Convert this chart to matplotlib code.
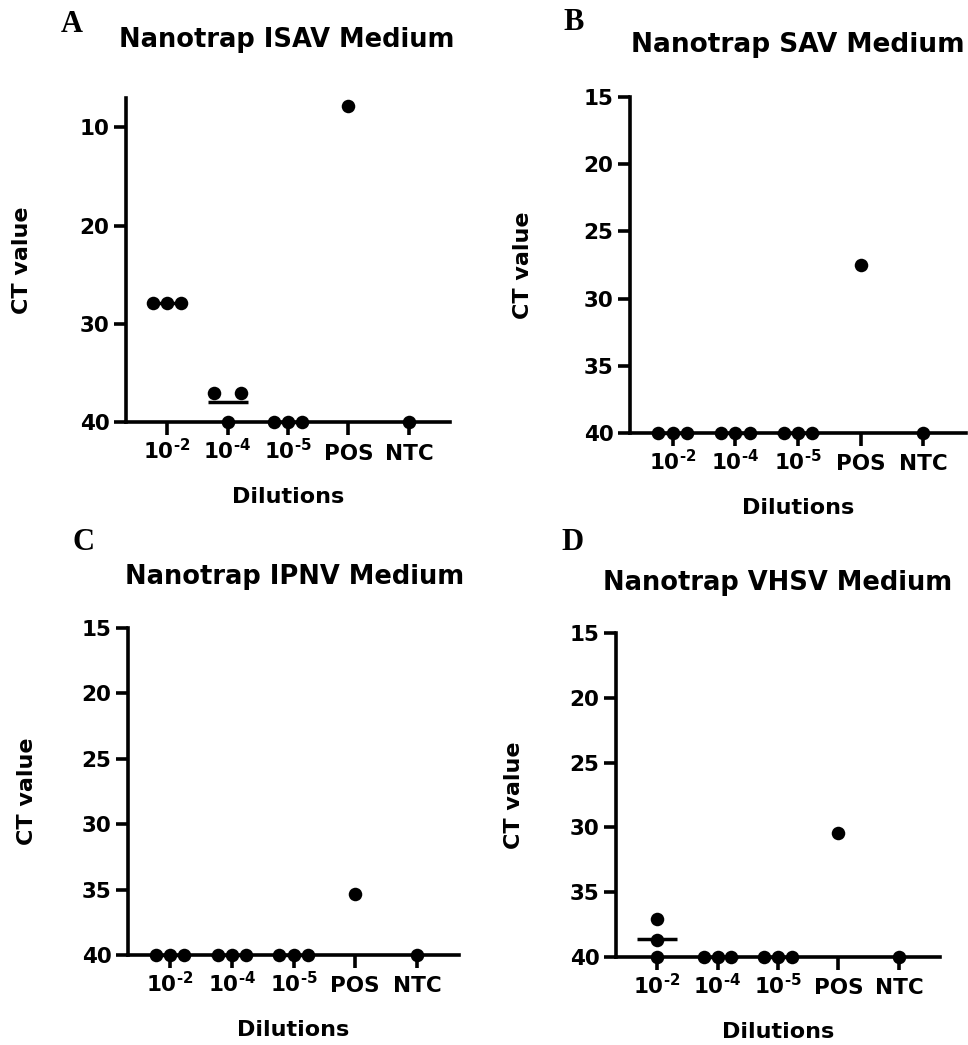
# Nanotrap medium CT values, four panels (A-D), Prism-style scatter with mean line
import matplotlib
matplotlib.use("Agg")
import matplotlib.pyplot as plt
import numpy as np

plt.rcParams['mathtext.fontset'] = 'dejavusans'
plt.rcParams['mathtext.default'] = 'bf'

W, H = 968, 1045

# categories on x axis (superscript uses a real hyphen, like the original)
categories = ['$10^{\u20102}$', '$10^{\u20104}$', '$10^{\u20105}$', 'POS', 'NTC']

# CT values per category (replicates)
isav_ct = [[27.9, 27.9, 27.9], [37.0, 40.0, 37.0], [40.0, 40.0, 40.0], [7.8], [40.0]]
sav_ct = [[40.0, 40.0, 40.0], [40.0, 40.0, 40.0], [40.0, 40.0, 40.0], [27.5], [40.0]]
ipnv_ct = [[40.0, 40.0, 40.0], [40.0, 40.0, 40.0], [40.0, 40.0, 40.0], [35.3], [40.0]]
vhsv_ct = [[37.1, 38.7, 40.0], [40.0, 40.0, 40.0], [40.0, 40.0, 40.0], [30.4], [40.0]]

titles = ['Nanotrap ISAV Medium', 'Nanotrap SAV Medium',
          'Nanotrap IPNV Medium', 'Nanotrap VHSV Medium']
letters = ['A', 'B', 'C', 'D']
isav_yticks = [10, 20, 30, 40]
other_yticks = [15, 20, 25, 30, 35, 40]


def swarm_offsets(vals, step=0.23):
    '''spread identical values sideways like Prism does'''
    vals = np.asarray(vals, dtype=float)
    offs = np.zeros(len(vals))
    keys = np.round(vals, 1)
    for k in np.unique(keys):
        idx = np.where(keys == k)[0]
        n = len(idx)
        if n == 1:
            continue
        if n == 2:
            o = np.array([-1.0, 1.0])
        else:
            o = np.arange(n) - (n - 1) / 2
        offs[idx] = o * step
    return offs


def add_panel(fig, box, data, yticks, ylim, title, letter, title_xy, letter_xy,
              ylabel_x, title_size=18.5):
    left, top, right, bottom = box
    ax = fig.add_axes([left / W, 1 - bottom / H, (right - left) / W, (bottom - top) / H])

    for i, vals in enumerate(data):
        x = i + swarm_offsets(vals)
        if len(vals) > 1:
            m = np.mean(vals)
            ax.plot([i - 0.33, i + 0.33], [m, m], color='black', lw=2.5,
                    solid_capstyle='butt', zorder=3, clip_on=False)
        ax.scatter(x, vals, s=95, color='black', zorder=6, clip_on=False,
                   linewidths=0)

    ax.set_xlim(-0.68, 4.68)
    ax.set_ylim(*ylim)
    ax.set_xticks(range(len(categories)))
    ax.set_xticklabels(categories)
    ax.set_yticks(yticks)

    for s in ['top', 'right']:
        ax.spines[s].set_visible(False)
    for s in ['left', 'bottom']:
        ax.spines[s].set_linewidth(2.6)
        ax.spines[s].set_zorder(4)

    ax.tick_params(axis='both', direction='out', length=9, width=2.6,
                   labelsize=15.5)
    ax.tick_params(axis='x', pad=18)
    ax.tick_params(axis='y', pad=3)
    for lab in ax.get_xticklabels() + ax.get_yticklabels():
        lab.set_fontweight('bold')
    # keep all x labels on one baseline (superscripts stick up)
    for t in ax.xaxis.get_major_ticks():
        t.label1.set_va('baseline')

    ax.set_ylabel('CT value', fontsize=16, fontweight='bold')
    ax.set_xlabel('Dilutions', fontsize=16, fontweight='bold')
    ax.yaxis.set_label_coords((ylabel_x - left) / (right - left), 0.5)
    ax.xaxis.set_label_coords(0.5, -75 / (bottom - top))
    ax.xaxis.label.set_va('center')
    ax.yaxis.label.set_va('center')

    fig.text(title_xy[0] / W, 1 - title_xy[1] / H, title, ha='center', va='center',
             fontsize=title_size, fontweight='bold')
    fig.text(letter_xy[0] / W, 1 - letter_xy[1] / H, letter, ha='center', va='center',
             fontsize=22, fontweight='bold', family='Liberation Serif')
    return ax


fig = plt.figure(figsize=(W / 100, H / 100), dpi=100)
fig.patch.set_facecolor('white')

add_panel(fig, (126, 98, 450, 422), isav_ct, isav_yticks, (40, 7), titles[0], letters[0],
          (287, 40), (72, 24), 22)
add_panel(fig, (630, 97, 966, 433), sav_ct, other_yticks, (40, 15), titles[1], letters[1],
          (798, 45), (574, 22), 523, title_size=19)
add_panel(fig, (128, 628, 459, 955), ipnv_ct, other_yticks, (40, 15), titles[2], letters[2],
          (295, 577), (84, 543), 27)
add_panel(fig, (616, 633, 940, 957), vhsv_ct, other_yticks, (40, 15), titles[3], letters[3],
          (778, 583), (573, 543), 514)

fig.savefig('out.png', dpi=100)
